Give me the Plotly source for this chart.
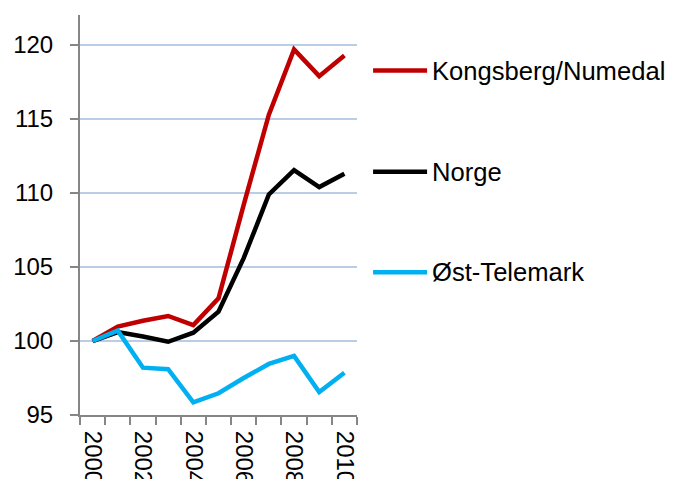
import plotly.graph_objects as go

years = list(range(2000, 2011))
kongsberg = [100.0, 100.97, 101.37, 101.69, 101.08, 102.88, 109.2, 115.3, 119.7, 117.9, 119.3]
norge = [100.0, 100.6, 100.3, 99.95, 100.56, 101.98, 105.6, 109.9, 111.55, 110.4, 111.3]
ost_telemark = [100.0, 100.7, 98.2, 98.1, 95.86, 96.47, 97.5, 98.45, 98.99, 96.55, 97.86]
series_names = ["Kongsberg/Numedal", "Norge", "Øst-Telemark"]
colors = ["#C00000", "#000000", "#00B0F0"]
y_ticks = [95, 100, 105, 110, 115, 120]
x_ticks = [2000, 2002, 2004, 2006, 2008, 2010]

fig = go.Figure()
for name, vals, col in zip(series_names, [kongsberg, norge, ost_telemark], colors):
    fig.add_trace(go.Scatter(x=years, y=vals, name=name, mode="lines",
                             line=dict(color=col, width=4.5), showlegend=False))

tick_font = dict(family="Liberation Sans, Arial, sans-serif", size=24, color="#000000")
legend_font = dict(family="Liberation Sans, Arial, sans-serif", size=25.6, color="#000000")

# manual legend (paper coordinates)
legend_y = [0.861, 0.608, 0.357]
shapes = []
annotations = []
for name, col, ly in zip(series_names, colors, legend_y):
    shapes.append(dict(type="line", xref="paper", yref="paper", x0=1.058, x1=1.253,
                       y0=ly, y1=ly, line=dict(color=col, width=4.5)))
    annotations.append(dict(xref="paper", yref="paper", x=1.263, y=ly, text=name,
                            showarrow=False, xanchor="left", yanchor="middle",
                            font=legend_font))

fig.update_layout(
    width=675, height=479,
    margin=dict(l=72, r=326, t=7, b=72),
    paper_bgcolor="white", plot_bgcolor="white",
    showlegend=False,
    shapes=shapes, annotations=annotations,
    xaxis=dict(range=[1999.5, 2010.5], tickvals=x_ticks, ticktext=[str(v) for v in x_ticks],
               tickangle=90, ticks="", showgrid=False, zeroline=False,
               showline=True, linecolor="#868686", linewidth=2, automargin=False,
               tickfont=tick_font, ticklabelstandoff=9,
               minor=dict(tick0=1999.5, dtick=1, ticks="outside", ticklen=8,
                          tickcolor="#868686", tickwidth=2, showgrid=False)),
    yaxis=dict(range=[95, 122.03], tickvals=y_ticks, ticks="outside", ticklen=8,
               tickcolor="#868686", tickwidth=2, showgrid=True, gridcolor="#B9CDE5",
               gridwidth=1.5, zeroline=False, showline=True, linecolor="#868686",
               linewidth=2, automargin=False, tickfont=tick_font, ticklabelstandoff=12),
)
fig.write_html("out.html")
